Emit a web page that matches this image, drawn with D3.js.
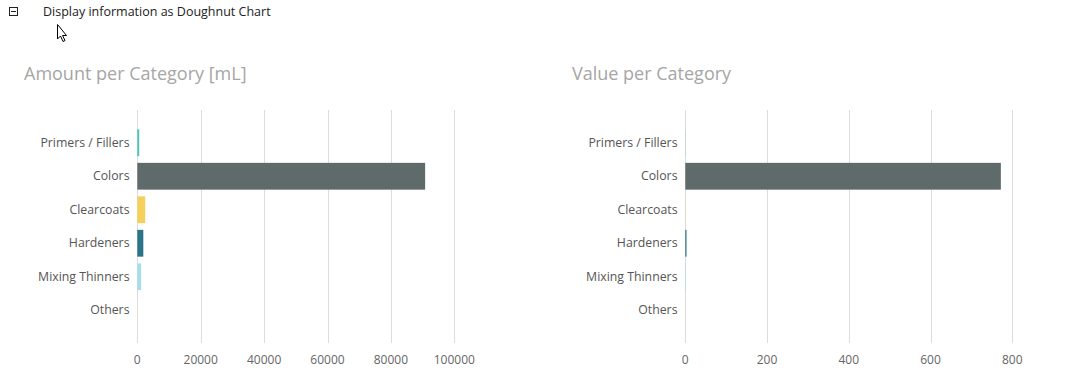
<!DOCTYPE html>
<html><head><meta charset="utf-8">
<script src="https://cdn.jsdelivr.net/npm/d3@7"></script>
<style>
html,body{margin:0;padding:0;background:#fff;}
svg{display:block;font-family:"Segoe UI","Open Sans","Noto Sans",sans-serif;}
</style></head>
<body><svg id="c" width="1069" height="390"></svg>
<script>
const categories = ["Primers / Fillers","Colors","Clearcoats","Hardeners","Mixing Thinners","Others"];
const colors = ["#4cc3b3","#5f6b6b","#f5d05a","#2a7388","#a6dcec","#cccccc"];
const amountValues = [600, 90800, 2500, 1900, 1200, 0];
const valueValues = [0.4, 772, 0.4, 3, 1.5, 0];
const amountTicks = [0,20000,40000,60000,80000,100000];
const valueTicks = [0,200,400,600,800];
const headerText = "Display information as Doughnut Chart";
const titles = ["Amount per Category [mL]","Value per Category"];

const svg = d3.select("#c");

// header
svg.append("rect").attr("x",9.5).attr("y",7.5).attr("width",8).attr("height",8)
  .attr("fill","none").attr("stroke","#222").attr("stroke-width",1);
svg.append("line").attr("x1",11).attr("x2",16).attr("y1",11.5).attr("y2",11.5).attr("stroke","#222");
svg.append("text").attr("x",43).attr("y",16).attr("font-size",12.5).attr("fill","#222").text(headerText);
// mouse cursor
svg.append("path").attr("d","M57.5,24.5 L57.5,39 L60.5,36 L63,41.5 L65,40.5 L62.5,35.5 L66.5,35.5 Z")
  .attr("fill","#fff").attr("stroke","#000").attr("stroke-width",1);

const y = d3.scaleBand().domain(categories).range([126,327]).paddingInner(0.2).paddingOuter(0.1);

function drawChart(cfg){
  const g = svg.append("g");
  const x = d3.scaleLinear().domain([0, cfg.ticks[cfg.ticks.length-1]]).range(cfg.range);
  g.append("text").attr("x",cfg.titleX).attr("y",80).attr("font-size",18).attr("fill","#a6a6a6").text(cfg.title);
  // gridlines
  g.selectAll("line.grid").data(cfg.ticks).join("line")
    .attr("x1",d=>Math.round(x(d))+0.5).attr("x2",d=>Math.round(x(d))+0.5)
    .attr("y1",110).attr("y2",343).attr("stroke","#dcdcdc").attr("stroke-width",1);
  // tick labels
  g.selectAll("text.tick").data(cfg.ticks).join("text")
    .attr("x",d=>x(d)).attr("y",364).attr("text-anchor","middle")
    .attr("font-size",12).attr("fill","#666").text(d=>d);
  // bars
  g.selectAll("rect.bar").data(categories).join("rect")
    .attr("x",x(0)).attr("y",d=>y(d))
    .attr("width",(d,i)=>Math.max(0,x(cfg.values[i])-x(0)))
    .attr("height",y.bandwidth())
    .attr("fill",(d,i)=>colors[i]);
  // category labels
  g.selectAll("text.cat").data(categories).join("text")
    .attr("x",cfg.labelX).attr("y",d=>y(d)+y.bandwidth()/2+4)
    .attr("text-anchor","end").attr("font-size",12.3).attr("fill","#555").text(d=>d);
}

drawChart({title:titles[0], titleX:24, ticks:amountTicks, values:amountValues, range:[137.3,454.3], labelX:129.5});
drawChart({title:titles[1], titleX:572, ticks:valueTicks, values:valueValues, range:[685.3,1012.3], labelX:677.5});
</script></body></html>
